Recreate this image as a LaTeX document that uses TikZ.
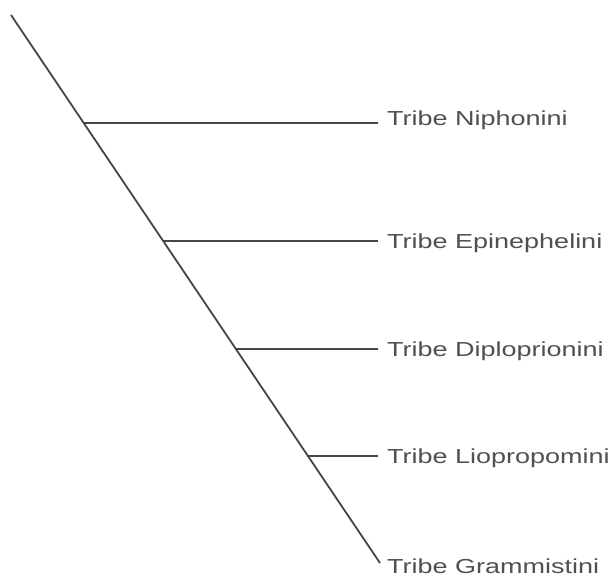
\documentclass[tikz,border=0pt]{standalone}
\usepackage{fontspec}
\setmainfont[FakeStretch=1.33]{Liberation Sans}
\definecolor{linegray}{HTML}{454545}
\definecolor{textgray}{HTML}{505050}
\begin{document}
\begin{tikzpicture}[x=1pt,y=-1pt,
  branch/.style={draw=linegray,line width=1.8pt},
  taxon/.style={anchor=base west,inner sep=0pt,text=textgray,font=\fontsize{20.3}{22}\selectfont}]
\useasboundingbox (0,0) rectangle (615,583);
\coordinate (top) at (11,15);
\coordinate (bot) at (380,563);
\coordinate (j1) at (83,123);
\coordinate (j2) at (163,241);
\coordinate (j3) at (236,349);
\coordinate (j4) at (307,456);
\coordinate (e1) at (378,123);
\coordinate (e2) at (378,241);
\coordinate (e3) at (378,349);
\coordinate (e4) at (378,456);
\node[taxon] (t1) at (387,125) {Tribe Niphonini};
\node[taxon] (t2) at (387,248) {Tribe Epinephelini};
\node[taxon] (t3) at (387,356) {Tribe Diploprionini};
\node[taxon] (t4) at (387,463) {Tribe Liopropomini};
\node[taxon] (t5) at (387,573) {Tribe Grammistini};
\draw[branch] (top) -- (bot);
\draw[branch] (j1) -- (e1);
\draw[branch] (j2) -- (e2);
\draw[branch] (j3) -- (e3);
\draw[branch] (j4) -- (e4);
\end{tikzpicture}
\end{document}
